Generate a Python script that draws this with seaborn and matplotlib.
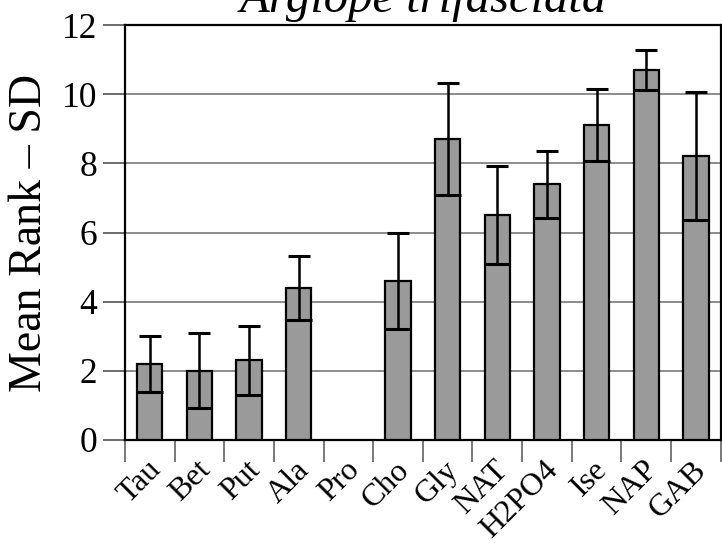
import numpy as np
import matplotlib
matplotlib.use('Agg')
import matplotlib.pyplot as plt
import matplotlib.transforms as mtransforms
import seaborn as sns

# values
compounds = ['Tau', 'Bet', 'Put', 'Ala', 'Pro', 'Cho', 'Gly', 'NAT', 'H2PO4', 'Ise', 'NAP', 'GAB']
mean_rank = [2.2, 2.0, 2.3, 4.4, np.nan, 4.6, 8.7, 6.5, 7.4, 9.1, 10.7, 8.2]
rank_sd = [0.82, 1.08, 0.99, 0.92, np.nan, 1.4, 1.63, 1.41, 0.97, 1.04, 0.57, 1.85]
y_ticks = [0, 2, 4, 6, 8, 10, 12]

sns.set_style('white')
plt.rcParams['font.family'] = ['Liberation Serif', 'DejaVu Serif']
plt.rcParams['text.color'] = 'black'
plt.rcParams['axes.labelcolor'] = 'black'
plt.rcParams['xtick.color'] = 'black'
plt.rcParams['ytick.color'] = 'black'

fig = plt.figure(figsize=(7.22, 5.43), dpi=100)
ax = fig.add_axes([125 / 722, 1 - 440 / 543, 595.7 / 722, 415 / 543])

sns.barplot(x=compounds, y=mean_rank, color='#9a9a9a', saturation=1,
            edgecolor='black', linewidth=1.6, width=0.51, errorbar=None, ax=ax, zorder=3)

pos = np.arange(len(compounds))
means = np.array(mean_rank)
sds = np.array(rank_sd)
ax.errorbar(pos, means, yerr=sds, fmt='none', ecolor='black', elinewidth=1.8, capsize=0, zorder=4)
# top caps and the lower marks that span the bar
ax.plot(pos, means + sds, ls='none', marker='_', ms=16.5, mew=2.2, color='black', zorder=4)
ax.plot(pos, means - sds, ls='none', marker='_', ms=18.5, mew=2.2, color='black', zorder=4)

ax.set_ylim(0, 12)
ax.set_xlim(-0.5, len(compounds) - 0.5)
ax.set_yticks(y_ticks)
ax.yaxis.grid(True, color='#6e6e6e', linewidth=1.1)
ax.set_axisbelow(True)

for side in ['left', 'right', 'top', 'bottom']:
    ax.spines[side].set_visible(True)
    ax.spines[side].set_color('black')
    ax.spines[side].set_linewidth(1.6)

ax.tick_params(axis='y', direction='out', length=16, width=1.1, color='#444444',
               labelsize=25.5, labelcolor='black', pad=4, left=True)
ax.tick_params(axis='x', which='major', length=0, labelsize=23, labelcolor='black', pad=11)
ax.set_xticks(np.arange(-0.5, len(compounds)), minor=True)
ax.tick_params(axis='x', which='minor', direction='out', length=16, width=1.1,
               color='#555555', bottom=True)

offset = mtransforms.ScaledTranslation(17 / 100, 0, fig.dpi_scale_trans)
for lab in ax.get_xticklabels():
    lab.set_rotation(45)
    lab.set_ha('right')
    lab.set_va('top')
    lab.set_transform(lab.get_transform() + offset)

ax.set_xlabel('')
ax.set_ylabel('Mean Rank – SD', fontsize=33, color='black', labelpad=8)
ax.set_title('Argiope trifasciata', fontsize=35, style='italic', color='black', pad=9)

fig.savefig('out.png', dpi=100)
